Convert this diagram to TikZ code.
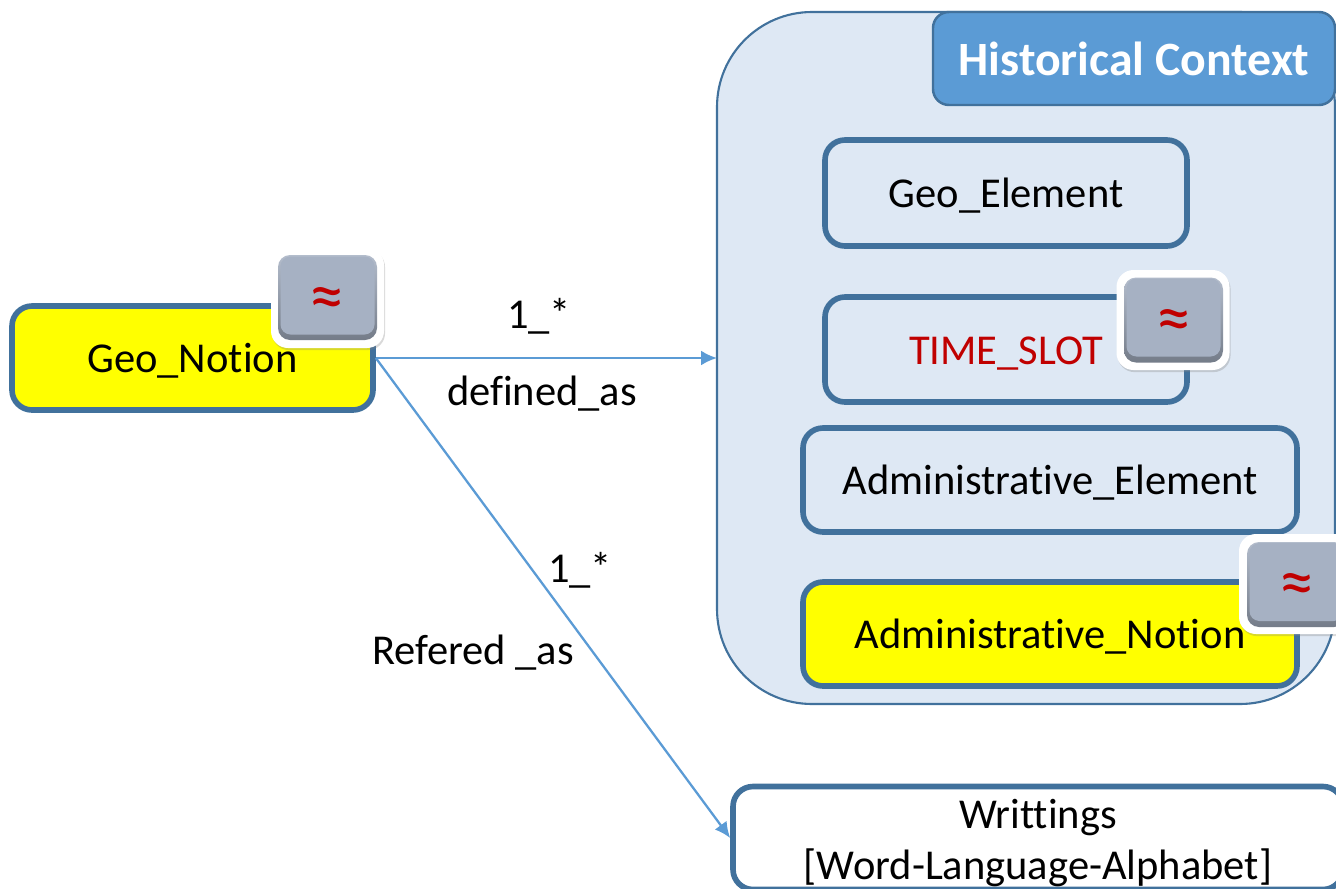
\documentclass[tikz,border=0pt]{standalone}
\usepackage{fontspec}
\setmainfont[RawFeature={-liga}]{Carlito}
\usepackage{xcolor}
\usetikzlibrary{arrows.meta,shadows}
\definecolor{edgeblue}{HTML}{41719C}
\definecolor{headblue}{HTML}{5B9BD5}
\definecolor{paleblue}{HTML}{DEE8F4}
\definecolor{darkred}{HTML}{C00000}
\definecolor{facegrey}{HTML}{A6B1C3}
\definecolor{notionyellow}{HTML}{FFFF00}

\begin{document}
\begin{tikzpicture}
	\tikzstyle{box} = [draw = edgeblue, line width = 1.6pt, rounded corners = 0.2cm, font = \fontsize{12.1}{14.5}\selectfont, align = center, inner sep = 0pt]
	\tikzstyle{label} = [font = \fontsize{12.1}{14.5}\selectfont, inner sep = 0pt]
	\tikzstyle{link} = [draw = headblue, line width = 0.65pt, -{Latex[length = 4.5pt, width = 4.2pt]}]
	\tikzstyle{badge} = [fill = white, rounded corners = 0.17cm, minimum width = 1.13cm, minimum height = 1cm, inner sep = 0pt, drop shadow = {shadow xshift = 0.3pt, shadow yshift = -0.6pt, opacity = 0.3}]
	\tikzstyle{bevel} = [top color = facegrey!85!white, bottom color = facegrey!70!black, rounded corners = 0.12cm, minimum width = 0.99cm, minimum height = 0.85cm, inner sep = 0pt]
	\tikzstyle{face} = [fill = facegrey, rounded corners = 0.1cm, minimum width = 0.94cm, minimum height = 0.78cm, inner sep = 0pt, text = darkred, font = \fontsize{20}{20}\selectfont]

	\useasboundingbox (0, 0) rectangle (13.36, 8.88);

	% container
	\node[draw = edgeblue, fill = paleblue, line width = 0.6pt, outer sep = 0pt, rounded corners = 0.95cm, minimum width = 6.18cm, minimum height = 6.92cm] (context) at (10.26, 5.3) {};
	\node[box, draw = edgeblue, fill = headblue, line width = 0.7pt, rounded corners = 0.16cm, minimum width = 4.02cm, minimum height = 0.93cm, text = white, font = \fontsize{13.6}{16}\selectfont\bfseries] (head) at (11.34, 8.295) {Historical Context};

	\node[box, fill = notionyellow, minimum width = 3.61cm, minimum height = 1.04cm, text height = 0.35cm] (notion) at (1.925, 5.3) {Geo\_Notion};
	\node[box, minimum width = 3.62cm, minimum height = 1.06cm, text height = 0.35cm] (element) at (10.06, 6.95) {Geo\_Element};
	\node[box, minimum width = 3.62cm, minimum height = 1.05cm, text height = 0.35cm, text = darkred] (slot) at (10.06, 5.385) {TIME\_SLOT};
	\node[box, minimum width = 4.94cm, minimum height = 1.04cm, text height = 0.35cm] (admin) at (10.5, 4.08) {Administrative\_Element};
	\node[box, fill = notionyellow, minimum width = 4.94cm, minimum height = 1.04cm, text height = 0.35cm] (adminnotion) at (10.5, 2.54) {Administrative\_Notion};
	\node[box, fill = white, minimum width = 6.1cm, minimum height = 1.03cm] (writings) at (10.38, 0.5) {\rule{0pt}{0.39cm}Writtings\\{}[Word-Language-Alphabet]};

	\path[link] (notion.east) -- (context.west);
	\path[link] (notion.east) -- (writings.west);

	\node[label] (l1) at (5.39, 5.72) {1\_*};
	\node[label] (l2) at (5.42, 4.94) {defined\_as};
	\node[label] (l3) at (5.8, 3.18) {1\_*};
	\node[label] (l4) at (4.73, 2.35) {Refered \_as};

	% badges
	\node[badge] (b1) at (3.275, 5.9) {};
	\node[bevel] (b1b) at (3.275, 5.905) {};
	\node[face] (b1f) at (3.275, 5.925) {\raisebox{-0.235cm}[0pt][0pt]{≈}};
	\node[badge] (b2) at (11.73, 5.68) {};
	\node[bevel] (b2b) at (11.735, 5.68) {};
	\node[face] (b2f) at (11.735, 5.705) {\raisebox{-0.235cm}[0pt][0pt]{≈}};
	\node[badge] (b3) at (12.955, 3.04) {};
	\node[bevel] (b3b) at (12.965, 3.035) {};
	\node[face] (b3f) at (12.965, 3.06) {\raisebox{-0.235cm}[0pt][0pt]{≈}};
\end{tikzpicture}
\end{document}
